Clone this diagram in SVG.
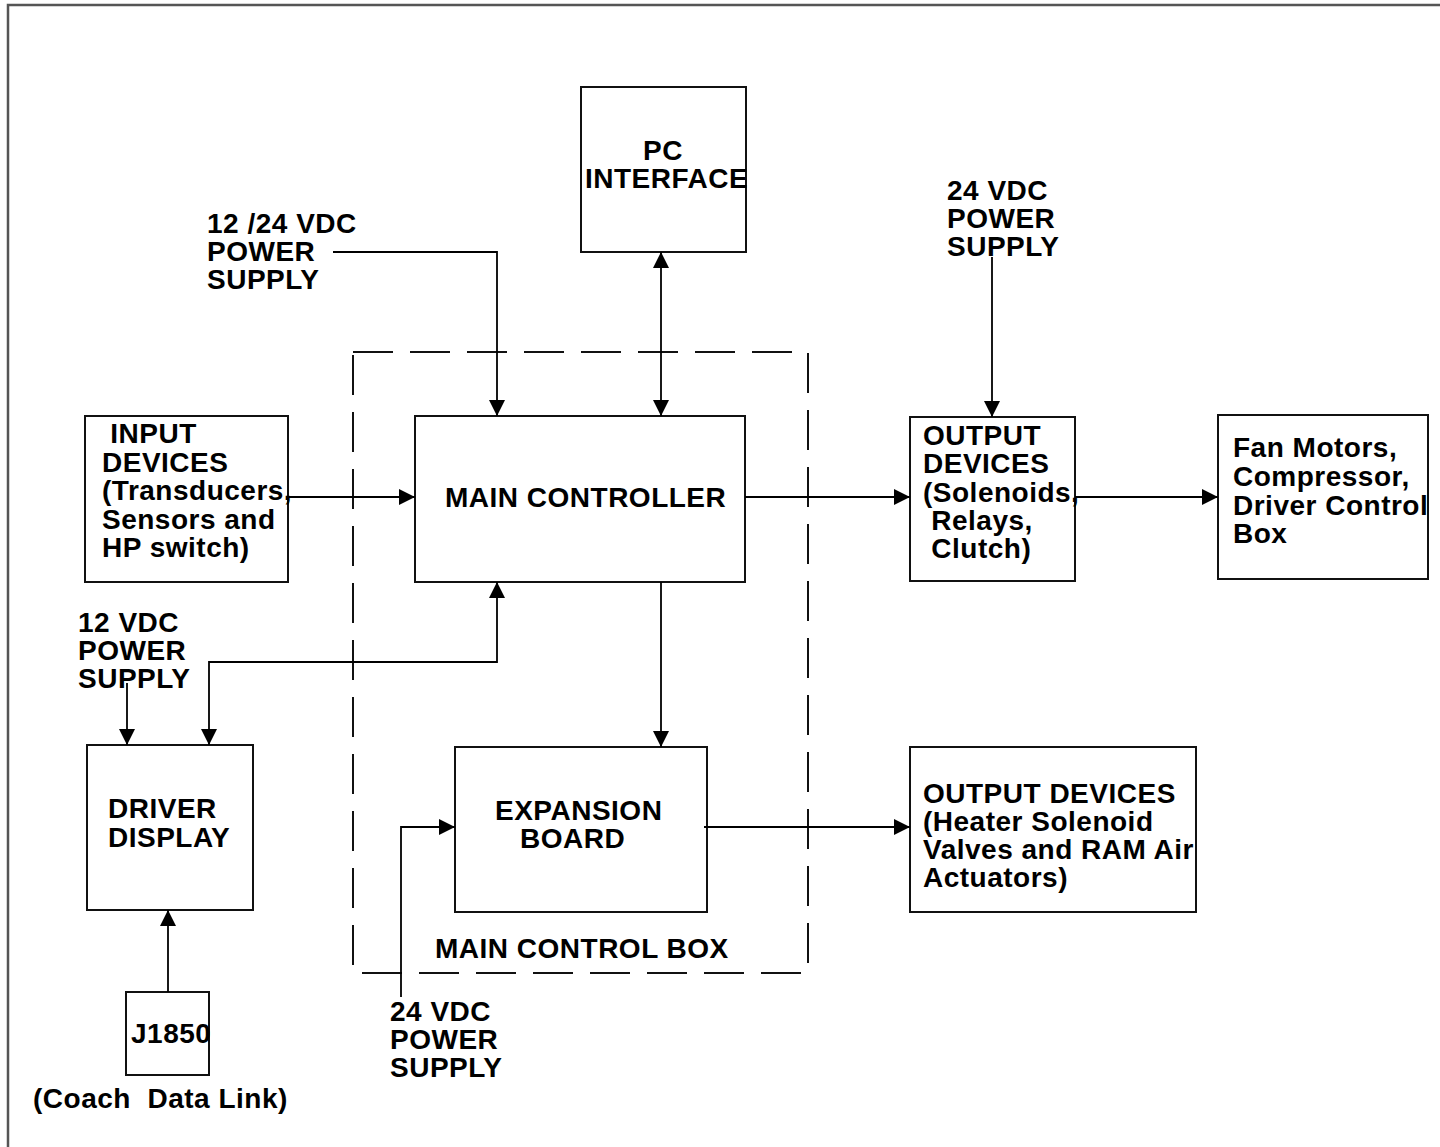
<svg xmlns="http://www.w3.org/2000/svg" width="1440" height="1147" viewBox="0 0 1440 1147">
<style>
.box{fill:#fff;stroke:#111;stroke-width:2}
.ln{fill:none;stroke:#000;stroke-width:1.8}
.dash{fill:none;stroke:#111;stroke-width:2;stroke-dasharray:40 17}
text{font-family:"Liberation Sans",Arial,sans-serif;font-weight:bold;font-size:28px;letter-spacing:0.5px;fill:#000;white-space:pre}
</style>
<defs>
<marker id="ah" viewBox="0 0 16 16" refX="16" refY="8" markerWidth="16" markerHeight="16" markerUnits="userSpaceOnUse" orient="auto-start-reverse">
<path d="M0,0 L16,8 L0,16 Z" fill="#000"/>
</marker>
</defs>
<rect width="1440" height="1147" fill="#fff"/>
<path d="M8,1147 V5 H1440" fill="none" stroke="#555" stroke-width="2.5"/>

<g id="main-control-box">
<rect class="dash" x="353" y="352" width="455" height="621"/>
<text x="435" y="958">MAIN CONTROL BOX</text>
</g>

<g id="pc-interface">
<rect class="box" x="581" y="87" width="165" height="165"/>
<text x="643" y="160">PC</text>
<text x="585" y="188">INTERFACE</text>
</g>

<g id="input-devices">
<rect class="box" x="85" y="416" width="203" height="166"/>
<text x="102" y="443"> INPUT</text>
<text x="102" y="471.5">DEVICES</text>
<text x="102" y="500">(Transducers,</text>
<text x="102" y="528.5">Sensors and</text>
<text x="102" y="557">HP switch)</text>
</g>

<g id="main-controller">
<rect class="box" x="415" y="416" width="330" height="166"/>
<text x="445" y="507">MAIN CONTROLLER</text>
</g>

<g id="output-devices-1">
<rect class="box" x="910" y="417" width="165" height="164"/>
<text x="923" y="445">OUTPUT</text>
<text x="923" y="473">DEVICES</text>
<text x="923" y="502">(Solenoids,</text>
<text x="923" y="530"> Relays,</text>
<text x="923" y="558"> Clutch)</text>
</g>

<g id="fan-motors">
<rect class="box" x="1218" y="415" width="210" height="164"/>
<text x="1233" y="457">Fan Motors,</text>
<text x="1233" y="486">Compressor,</text>
<text x="1233" y="514.5">Driver Control</text>
<text x="1233" y="543">Box</text>
</g>

<g id="driver-display">
<rect class="box" x="87" y="745" width="166" height="165"/>
<text x="108" y="818">DRIVER</text>
<text x="108" y="847">DISPLAY</text>
</g>

<g id="expansion-board">
<rect class="box" x="455" y="747" width="252" height="165"/>
<text x="495" y="820">EXPANSION</text>
<text x="520" y="848">BOARD</text>
</g>

<g id="output-devices-2">
<rect class="box" x="910" y="747" width="286" height="165"/>
<text x="923" y="803">OUTPUT DEVICES</text>
<text x="923" y="831">(Heater Solenoid</text>
<text x="923" y="859">Valves and RAM Air</text>
<text x="923" y="887">Actuators)</text>
</g>

<g id="j1850">
<rect class="box" x="126" y="992" width="83" height="83"/>
<text x="131" y="1043">J1850</text>
<text x="33" y="1108">(Coach  Data Link)</text>
</g>

<g id="power-12-24">
<text x="207" y="233">12 /24 VDC</text>
<text x="207" y="261">POWER</text>
<text x="207" y="289">SUPPLY</text>
</g>

<g id="power-24-top">
<text x="947" y="200">24 VDC</text>
<text x="947" y="228">POWER</text>
<text x="947" y="256">SUPPLY</text>
</g>

<g id="power-12">
<text x="78" y="632">12 VDC</text>
<text x="78" y="660">POWER</text>
<text x="78" y="688">SUPPLY</text>
</g>

<g id="power-24-bottom">
<text x="390" y="1021">24 VDC</text>
<text x="390" y="1049">POWER</text>
<text x="390" y="1077">SUPPLY</text>
</g>

<g id="connectors">
<path class="ln" d="M333,252 H497 V416" marker-end="url(#ah)"/>
<path class="ln" d="M661,252 V416" marker-start="url(#ah)" marker-end="url(#ah)"/>
<path class="ln" d="M992,257 V417" marker-end="url(#ah)"/>
<path class="ln" d="M288,497 H415" marker-end="url(#ah)"/>
<path class="ln" d="M745,497 H910" marker-end="url(#ah)"/>
<path class="ln" d="M1075,497 H1218" marker-end="url(#ah)"/>
<path class="ln" d="M661,582 V747" marker-end="url(#ah)"/>
<path class="ln" d="M209,745 V662 H497 V582" marker-start="url(#ah)" marker-end="url(#ah)"/>
<path class="ln" d="M127,683 V745" marker-end="url(#ah)"/>
<path class="ln" d="M168,992 V910" marker-end="url(#ah)"/>
<path class="ln" d="M401,997 V827 H455" marker-end="url(#ah)"/>
<path class="ln" d="M704,827 H910" marker-end="url(#ah)"/>
</g>
</svg>
